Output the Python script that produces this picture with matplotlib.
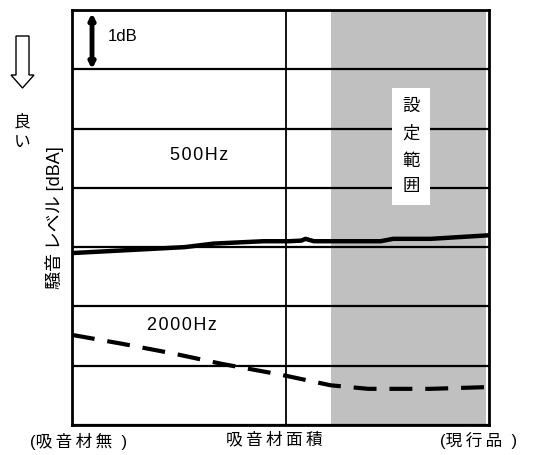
import matplotlib.pyplot as plt
from matplotlib.patches import Polygon

plt.rcParams['font.family'] = ['Liberation Sans', 'Noto Sans CJK JP', 'DejaVu Sans']

# x: position along the absorber area axis (0 = none, 100 = current product)
x_500 = [0, 27, 34, 46, 52, 55, 56, 58, 74, 77, 86, 100]
y_500 = [2.90, 3.00, 3.06, 3.10, 3.10, 3.11, 3.14, 3.10, 3.10, 3.14, 3.14, 3.20]

x_2000 = [0, 12, 24, 36, 50, 56, 62, 71, 86, 100]
y_2000 = [1.52, 1.37, 1.21, 1.03, 0.85, 0.76, 0.67, 0.61, 0.61, 0.64]

grid_levels = [0, 1, 2, 3, 4, 5, 6, 7]
mid_x = 51.3
band = (62, 99.3)

TS = '\u2009'  # thin space for the wide letter spacing of the original
HS = '\u200a'  # hair space


def spaced(s, sep=TS):
    return sep.join(s)


fig = plt.figure(figsize=(5.36, 4.55), dpi=100)
ax = fig.add_axes([72 / 536, 30 / 455, 417 / 536, 415 / 455])
ax.set_xlim(0, 100)
ax.set_ylim(0, 7)

ax.axvspan(band[0], band[1], color='#c0c0c0', lw=0, zorder=0)
for g in grid_levels:
    ax.axhline(g, color='black', lw=1.6, zorder=1)
ax.axvline(mid_x, color='black', lw=1.3, zorder=1)

ax.plot(x_500, y_500, color='black', lw=3.2, zorder=3, solid_capstyle='butt')
ax.plot(x_2000, y_2000, color='black', lw=3.0, zorder=3, dashes=(5.5, 3.1))

ax.set_xticks([])
ax.set_yticks([])
for s in ax.spines.values():
    s.set_linewidth(2)

# 1dB scale arrow
ax.annotate('', xy=(4.8, 6.95), xytext=(4.8, 6.0),
            arrowprops=dict(arrowstyle='<|-|>', lw=3.5, color='black',
                            mutation_scale=8, shrinkA=0, shrinkB=0))
ax.text(8.5, 6.55, '1dB', fontsize=12, va='center')
ax.text(23.5, 4.55, spaced('500Hz', HS), fontsize=13, va='center')
ax.text(18, 1.68, spaced('2000Hz', HS), fontsize=13, va='center')

ax.text(81.3, 4.70, '設\n定\n範\n囲', fontsize=12.5, ha='center', va='center',
        linespacing=1.9,
        bbox=dict(facecolor='white', edgecolor='none', boxstyle='square,pad=0.6'))

# open "better" arrow on the left
W, H = 536, 455
pts = [(16, 36), (29, 36), (29, 75), (34, 75), (22.5, 88), (11, 75), (16, 75)]
arrow = Polygon([(px / W, 1 - py / H) for px, py in pts], closed=True,
                fill=False, edgecolor='black', lw=1.0, transform=fig.transFigure)
fig.patches.append(arrow)
fig.text(22.5 / W, 1 - 132 / H, '良\nい', fontsize=12, ha='center', va='center',
         linespacing=1.5)

fig.text(55 / W, 1 - 218 / H, '騒音' + TS + 'レベル [dBA]', fontsize=13, rotation=90,
         ha='center', va='center')

fig.text(30 / W, 1 - 441 / H, '(' + spaced('吸音材無') + '  )', fontsize=12,
         ha='left', va='center')
fig.text(274 / W, 1 - 440 / H, spaced('吸音材面積'), fontsize=12,
         ha='center', va='center')
fig.text(440 / W, 1 - 440 / H, '(' + spaced('現行品') + '  )', fontsize=12,
         ha='left', va='center')

fig.savefig('out.png', dpi=100)
